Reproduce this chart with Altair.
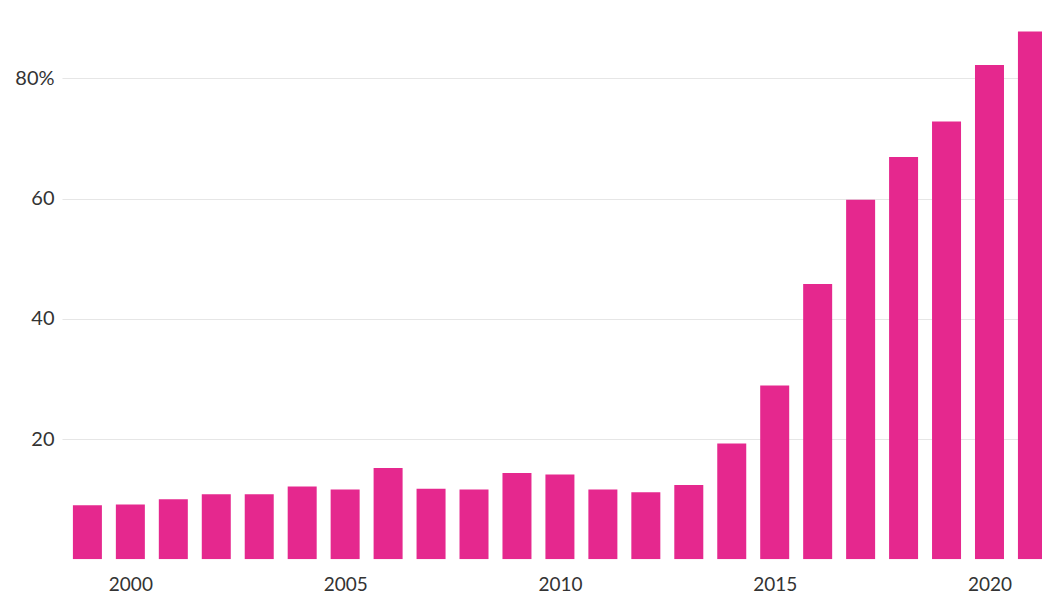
import altair as alt
import pandas as pd

years = list(range(1999, 2022))
values = [9.0, 9.1, 10.0, 10.8, 10.8, 12.1, 11.6, 15.2, 11.75, 11.6, 14.35, 14.1,
          11.6, 11.15, 12.35, 19.25, 28.9, 45.8, 59.8, 66.9, 72.8, 82.2, 87.8]
x_ticks = [2000, 2005, 2010, 2015, 2020]
y_ticks = [20, 40, 60, 80]

df = pd.DataFrame({"year": years, "value": values})

FONT = "Lato"

chart = alt.Chart(df).mark_bar(size=29, clip=True, color="#e5288e").encode(
    x=alt.X(
        "year:Q",
        scale=alt.Scale(domain=[1998.525, 2021.106], nice=False, zero=False),
        axis=alt.Axis(
            values=x_ticks, format="d", title=None, ticks=False, domain=False,
            grid=False, labelFont=FONT, labelFontSize=19, labelColor="#333333",
            labelPadding=16, labelFlush=False,
        ),
    ),
    y=alt.Y(
        "value:Q",
        scale=alt.Scale(domain=[0, 91.69], nice=False),
        axis=alt.Axis(
            values=y_ticks, title=None, ticks=False, domain=False,
            labelExpr="datum.value == 80 ? '80%' : datum.label",
            labelFont=FONT, labelFontSize=20, labelColor="#333333",
            labelPadding=8, gridColor="#e6e6e6", gridWidth=1.2,
        ),
    ),
).properties(
    width=980,
    height=551.3,
    autosize=alt.AutoSizeParams(type="none"),
    padding={"left": 54, "top": 0, "right": 0, "bottom": 36},
).configure_view(stroke=None)

chart.save("out.html", embed_options={"renderer": "svg", "actions": False})
